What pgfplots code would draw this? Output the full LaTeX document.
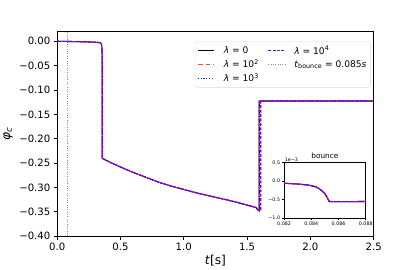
\documentclass[border=0pt]{standalone}
\usepackage{pgfplots}
\pgfplotsset{compat=1.18}
\usepackage{fontspec}
\setmainfont{DejaVu Sans}
\definecolor{lred}{RGB}{255,70,70}
\definecolor{lblue}{RGB}{30,30,255}
\definecolor{lpurple}{RGB}{125,0,235}
\definecolor{lgray}{RGB}{140,140,140}
\begin{document}
\begin{tikzpicture}
\path (-51.5bp,-30bp) rectangle (363.5bp,240bp);
\begin{axis}[
  name=main, at={(0,0)}, anchor=south west,
  scale only axis, width=321.5bp, height=208bp,
  xmin=0, xmax=2.5, ymin=-0.4, ymax=0.02,
  scaled ticks=false,
  xtick={0,0.5,1,1.5,2,2.5}, xticklabels={0.0,0.5,1.0,1.5,2.0,2.5},
  ytick={-0.40,-0.35,-0.30,-0.25,-0.20,-0.15,-0.10,-0.05,0.00},
  yticklabels={−0.40,−0.35,−0.30,−0.25,−0.20,−0.15,−0.10,−0.05,0.00},
  tick align=outside, tick pos=left, major tick length=3.5bp,
  tick style={black, line width=0.8bp},
  axis line style={line width=0.8bp},
  tick label style={font=\fontsize{10.3}{12}\selectfont},
  label style={font=\fontsize{12.5}{14}\selectfont},
  xlabel={\textit{t}[s]}, ylabel={\textit{φ}\textsubscript{\textit{c}}},
  xlabel style={yshift=2bp},
  legend columns=2, legend cell align=left,
  legend style={at={(0.991,0.952)}, anchor=north east, draw=black!15, rounded corners=2bp,
    font=\fontsize{9.3}{10.5}\selectfont, column sep=7bp, inner sep=2.2bp, fill=white},
]
\addlegendimage{black, line width=1.1bp}\addlegendentry{\textit{λ} = 0}
\addlegendimage{lpurple, line width=1.1bp, dash pattern=on 3bp off 1.5bp}\addlegendentry{\textit{λ} = 10\textsuperscript{4}}
\addlegendimage{lred, line width=1.1bp, dash pattern=on 5bp off 3bp}\addlegendentry{\textit{λ} = 10\textsuperscript{2}}
\addlegendimage{lgray, line width=0.9bp, dash pattern=on 0.9bp off 1.5bp}\addlegendentry{\textit{t}\textsubscript{bounce} = 0.085\textit{s}}
\addlegendimage{lblue, line width=1.1bp, dash pattern=on 1.1bp off 1.8bp}\addlegendentry{\textit{λ} = 10\textsuperscript{3}}

\addplot[forget plot, lgray, line width=0.9bp, dash pattern=on 0.9bp off 1.5bp] coordinates {(0.085,-0.4) (0.085,0.02)};

\addplot[forget plot, black, line width=1.1bp] coordinates {
(0,0.000) (0.1,-0.0005) (0.2,-0.001) (0.3,-0.002) (0.34,-0.003) (0.350,-0.006) (0.354,-0.015) (0.356,-0.05)
(0.356,-0.240) (0.40,-0.246) (0.5,-0.258) (0.6,-0.269) (0.7,-0.279) (0.8,-0.289) (0.9,-0.297) (1.0,-0.304)
(1.1,-0.311) (1.2,-0.317) (1.3,-0.323) (1.4,-0.329) (1.5,-0.336) (1.57,-0.341) (1.585,-0.346) (1.596,-0.348)
(1.596,-0.1225) (2.5,-0.1225)};
\addplot[forget plot, lred, line width=1.1bp, dash pattern=on 5bp off 3bp] coordinates {
(0,0.000) (0.1,-0.0005) (0.2,-0.001) (0.3,-0.002) (0.34,-0.003) (0.350,-0.006) (0.354,-0.015) (0.356,-0.05)
(0.356,-0.240) (0.40,-0.246) (0.5,-0.258) (0.6,-0.269) (0.7,-0.279) (0.8,-0.289) (0.9,-0.297) (1.0,-0.304)
(1.1,-0.311) (1.2,-0.317) (1.3,-0.323) (1.4,-0.329) (1.5,-0.336) (1.57,-0.341) (1.585,-0.346) (1.596,-0.348)
(1.596,-0.1225) (2.5,-0.1225)};
\addplot[forget plot, lblue, line width=1.1bp, dash pattern=on 1.1bp off 1.8bp] coordinates {
(0,0.000) (0.1,-0.0005) (0.2,-0.001) (0.3,-0.002) (0.34,-0.003) (0.350,-0.006) (0.354,-0.015) (0.356,-0.05)
(0.356,-0.240) (0.40,-0.246) (0.5,-0.258) (0.6,-0.269) (0.7,-0.279) (0.8,-0.289) (0.9,-0.297) (1.0,-0.304)
(1.1,-0.311) (1.2,-0.317) (1.3,-0.323) (1.4,-0.329) (1.5,-0.336) (1.57,-0.341) (1.585,-0.346) (1.596,-0.348)
(1.596,-0.1225) (2.5,-0.1225)};
\addplot[forget plot, lpurple, line width=1.1bp, dash pattern=on 3bp off 1.5bp] coordinates {
(0,0.000) (0.1,-0.0005) (0.2,-0.001) (0.3,-0.002) (0.34,-0.003) (0.350,-0.006) (0.354,-0.015) (0.357,-0.05)
(0.357,-0.240) (0.40,-0.246) (0.5,-0.258) (0.6,-0.269) (0.7,-0.279) (0.8,-0.289) (0.9,-0.297) (1.0,-0.304)
(1.1,-0.311) (1.2,-0.317) (1.3,-0.323) (1.4,-0.329) (1.5,-0.336) (1.57,-0.341) (1.585,-0.345) (1.608,-0.348)
(1.608,-0.1225) (2.5,-0.1225)};
\end{axis}

\begin{axis}[
  name=inset, at={(230.5bp,18.3bp)}, anchor=south west,
  scale only axis, width=83bp, height=56.7bp,
  xmin=0.082, xmax=0.088, ymin=-1.0, ymax=0.5,
  scaled ticks=false,
  xtick={0.082,0.084,0.086,0.088}, xticklabels={0.082,0.084,0.086,0.088},
  ytick={-1,-0.5,0,0.5}, yticklabels={−1.0,−0.5,0.0,0.5},
  tick align=outside, tick pos=left, major tick length=2bp,
  tick style={black, line width=0.6bp},
  axis line style={line width=0.6bp},
  axis background/.style={fill=white},
  tick label style={font=\fontsize{4.9}{5}\selectfont},
  xticklabel style={yshift=1.5bp}, yticklabel style={xshift=1.5bp},
  title={bounce}, title style={font=\fontsize{7.5}{8}\selectfont, yshift=-6bp},
]
\addplot[black, line width=1.1bp] coordinates {
(0.0820,-0.06) (0.0830,-0.08) (0.0838,-0.11) (0.0843,-0.15) (0.0846,-0.21) (0.0848,-0.27) (0.0850,-0.34)
(0.0851,-0.40) (0.0852,-0.47) (0.08528,-0.53) (0.08535,-0.555) (0.0855,-0.555) (0.0880,-0.55)};
\addplot[lred, line width=1.1bp, dash pattern=on 5bp off 3bp] coordinates {
(0.0820,-0.06) (0.0830,-0.08) (0.0838,-0.11) (0.0843,-0.15) (0.0846,-0.21) (0.0848,-0.27) (0.0850,-0.34)
(0.0851,-0.40) (0.0852,-0.47) (0.08528,-0.53) (0.08535,-0.555) (0.0855,-0.555) (0.0880,-0.55)};
\addplot[lblue, line width=1.1bp, dash pattern=on 1.1bp off 1.8bp] coordinates {
(0.0820,-0.06) (0.0830,-0.08) (0.0838,-0.11) (0.0843,-0.15) (0.0846,-0.21) (0.0848,-0.27) (0.0850,-0.34)
(0.0851,-0.40) (0.0852,-0.47) (0.08528,-0.53) (0.08535,-0.555) (0.0855,-0.555) (0.0880,-0.55)};
\addplot[lpurple, line width=1.1bp, dash pattern=on 3bp off 1.5bp] coordinates {
(0.0820,-0.06) (0.0830,-0.08) (0.0838,-0.11) (0.0843,-0.15) (0.0846,-0.21) (0.0848,-0.27) (0.0850,-0.34)
(0.0851,-0.40) (0.0852,-0.47) (0.08528,-0.53) (0.08535,-0.555) (0.0855,-0.555) (0.0880,-0.55)};
\end{axis}
\node[anchor=south west, inner sep=0.5bp, font=\fontsize{4.9}{5}\selectfont] at (inset.north west) {1e−3};
\end{tikzpicture}
\end{document}
